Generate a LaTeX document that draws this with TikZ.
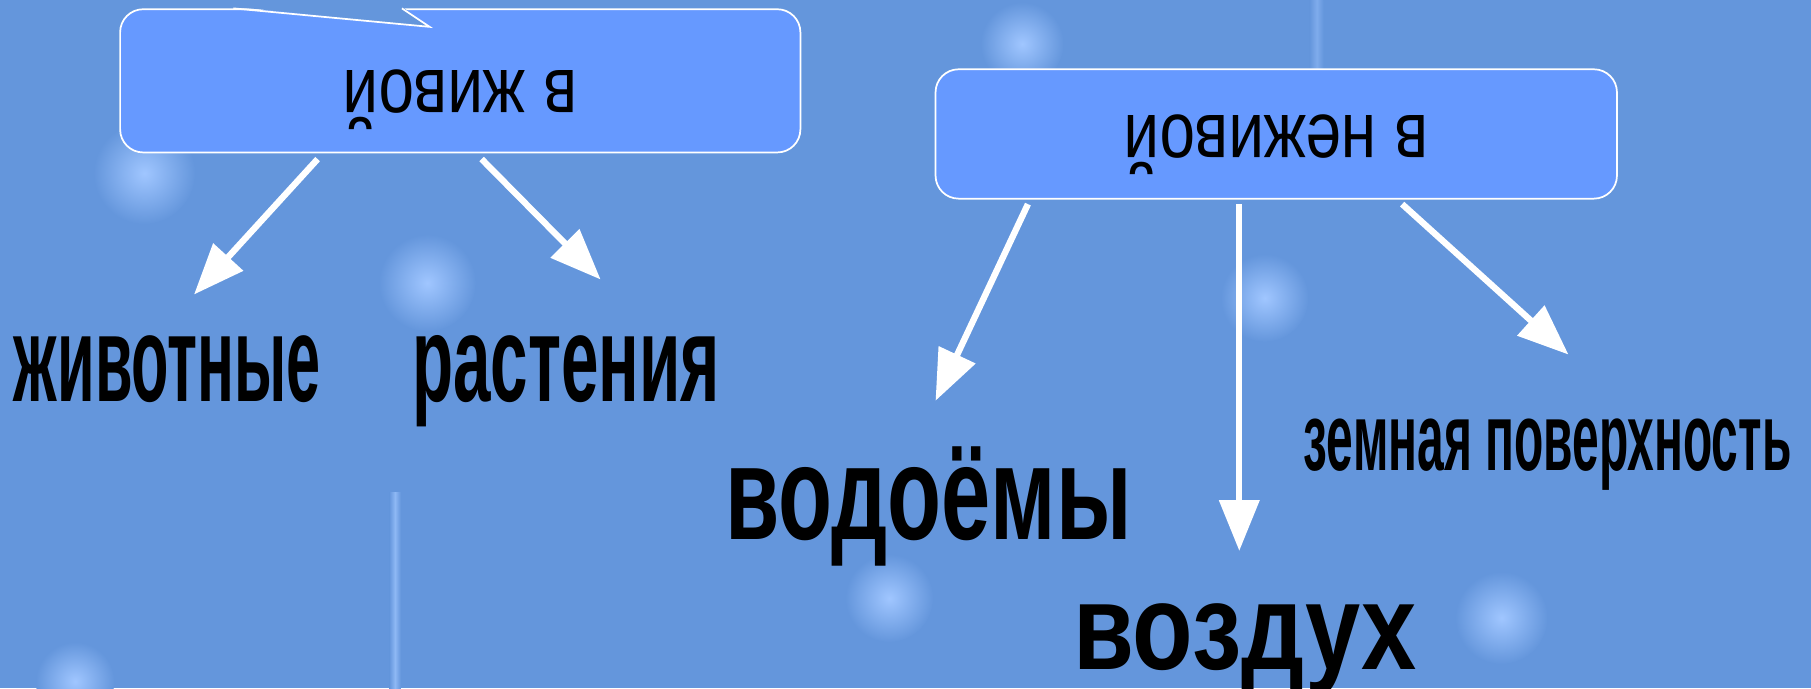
\documentclass[tikz,border=0pt]{standalone}
\usepackage{fontspec}
\setmainfont{Liberation Sans}
\usetikzlibrary{arrows.meta,calc}

\definecolor{bgblue}{RGB}{100,150,220}
\definecolor{boxblue}{RGB}{102,153,255}
\definecolor{glow}{RGB}{160,198,255}

\begin{document}
\begin{tikzpicture}[x=1pt,y=1pt,
  box/.style={draw=white,line width=1.5pt,fill=boxblue,rounded corners=20pt},
  arr/.style={white,line width=5.5pt,-{Triangle[length=44pt,width=34pt]}},
  word/.style={anchor=base,inner sep=0pt,font=\bfseries}]
\fill[bgblue] (0,0) rectangle (1568,596);
\useasboundingbox (0,0) rectangle (1568,596);
% soft stars behind
\foreach \x/\y/\r in {125/446/44,370/351/42,885/558/36,1095/338/38,770/78/38,1300/61/40,65/6/34}
  \shade[inner color=glow,outer color=bgblue] (\x,\y) circle (\r);
\shade[left color=bgblue,right color=bgblue,middle color=glow!70!bgblue] (337,0) rectangle (347,170);
\shade[left color=bgblue,right color=bgblue,middle color=glow!45!bgblue] (1134,536) rectangle (1146,596);

\node[box,minimum width=589pt,minimum height=124pt] (alive) at (398.5,526) {};
\node[box,minimum width=590pt,minimum height=112pt] (lifeless) at (1105,480) {};
% notch on the top edge
\fill[bgblue] ($(alive.north)+(-196.5,1.5)$) -- ($(alive.north)+(-26.5,-16)$) -- ($(alive.north)+(-50.5,1.5)$) -- cycle;
\draw[white,line width=1.5pt] ($(alive.north)+(-196.5,0)$) -- ($(alive.north)+(-26.5,-16)$) -- ($(alive.north)+(-50.5,0)$);

\node (aliveText) at ([yshift=-16pt]alive.center)
  {\fontsize{69}{72}\selectfont\rotatebox{180}{\scalebox{0.8}[1]{в живой}}};
\node (lifelessText) at ([yshift=-9pt]lifeless.center)
  {\fontsize{69}{72}\selectfont\rotatebox{180}{\scalebox{0.8}[1]{в неживой}}};

\node[word] (animals) at (145,248) {\fontsize{106}{110}\selectfont\scalebox{0.5}[1]{животные}};
\node[word] (plants) at (490,248) {\fontsize{106}{110}\selectfont\scalebox{0.55}[1]{растения}};
\node[word] (water) at (804,129) {\fontsize{116}{120}\selectfont\scalebox{0.66}[1]{водоёмы}};
\node[word] (air) at (1078,16) {\fontsize{106}{110}\selectfont\scalebox{0.81}[1]{воздух}};
\node[word] (ground) at (1340,189) {\fontsize{83}{86}\selectfont\scalebox{0.5}[1]{земная поверхность}};

\draw[arr] ($(alive.south)+(-123.5,-5)$) -- ($(animals.base)+(23,93)$);
\draw[arr] ($(alive.south)+(18.5,-5)$) -- ($(plants.base)+(30,106)$);
\draw[arr] ($(lifeless.south)+(-215,-4)$) -- ($(water.base)+(6,120)$);
\draw[arr] ($(lifeless.south)+(-32,-4)$) -- ($(air.base)+(-5,103)$);
\draw[arr] ($(lifeless.south)+(109,-4)$) -- ($(ground.base)+(18,100)$);
\end{tikzpicture}
\end{document}
